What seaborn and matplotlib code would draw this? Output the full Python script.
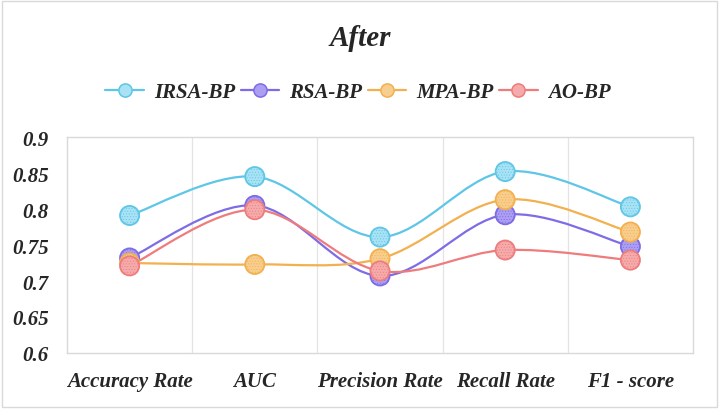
import numpy as np
import pandas as pd
import matplotlib
matplotlib.use("Agg")
import matplotlib.pyplot as plt
import seaborn as sns
from matplotlib.path import Path
from matplotlib.patches import PathPatch, Rectangle
from matplotlib.lines import Line2D

# ---- data ----
categories = ["Accuracy Rate", "AUC", "Precision Rate", "Recall Rate", "F1 - score"]
series_names = ["IRSA-BP", "RSA-BP", "MPA-BP", "AO-BP"]
irsa_bp = [0.791, 0.845, 0.761, 0.852, 0.803]
rsa_bp = [0.732, 0.805, 0.707, 0.792, 0.748]
mpa_bp = [0.725, 0.723, 0.731, 0.813, 0.768]
ao_bp = [0.721, 0.799, 0.714, 0.743, 0.729]
y_ticks = [0.6, 0.65, 0.7, 0.75, 0.8, 0.85, 0.9]
y_tick_labels = ["0.6", "0.65", "0.7", "0.75", "0.8", "0.85", "0.9"]

values = {"IRSA-BP": irsa_bp, "RSA-BP": rsa_bp, "MPA-BP": mpa_bp, "AO-BP": ao_bp}
edge_colors = {"IRSA-BP": "#5EC6E6", "RSA-BP": "#7D6CE6", "MPA-BP": "#F3B04E", "AO-BP": "#EF7C7C"}
fill_colors = {"IRSA-BP": "#A9E2F4", "RSA-BP": "#AC9FF2", "MPA-BP": "#F8CE8E", "AO-BP": "#F5ABAB"}

rows = []
for name in series_names:
    for i, c in enumerate(categories):
        rows.append({"series": name, "cat": c, "x": i, "value": values[name][i]})
df = pd.DataFrame(rows)

sns.set_theme(style="white")
plt.rcParams["font.family"] = ["Liberation Serif", "DejaVu Serif"]
plt.rcParams["hatch.linewidth"] = 0.35

fig = plt.figure(figsize=(7.2, 4.1), dpi=100)
ax = fig.add_axes([67 / 720, 1 - 354 / 410, (693 - 67) / 720, (354 - 138) / 410])


def smooth_path(xs, ys, k=1.0 / 6.0):
    pts = np.column_stack([xs, ys]).astype(float)
    n = len(pts)
    verts = [pts[0]]
    codes = [Path.MOVETO]
    for i in range(n - 1):
        p0 = pts[i - 1] if i > 0 else pts[i]
        p1 = pts[i]
        p2 = pts[i + 1]
        p3 = pts[i + 2] if i + 2 < n else pts[i + 1]
        c1 = p1 + (p2 - p0) * k
        c2 = p2 - (p3 - p1) * k
        verts += [c1, c2, p2]
        codes += [Path.CURVE4] * 3
    return Path(verts, codes)


for name in series_names:
    sub = df[df.series == name]
    patch = PathPatch(smooth_path(sub.x.values, sub.value.values), fill=False,
                      edgecolor=edge_colors[name], lw=1.6, transform=ax.transData, zorder=2)
    ax.add_patch(patch)

for name in series_names:
    sub = df[df.series == name]
    with plt.rc_context({"hatch.color": edge_colors[name]}):
        n_before = len(ax.collections)
        sns.scatterplot(data=sub, x="x", y="value", ax=ax, s=190, color=fill_colors[name],
                        edgecolor=edge_colors[name], linewidth=1.3, zorder=3, legend=False)
        coll = ax.collections[n_before]
        coll.set_hatch("......")
        coll._hatch_color = matplotlib.colors.to_rgba(edge_colors[name])

ax.set_xlim(-0.5, len(categories) - 0.5)
ax.set_ylim(0.6, 0.9)
ax.set_xticks(range(len(categories)))
ax.set_xticklabels(categories, fontsize=15, fontweight="bold", fontstyle="italic")
ax.set_yticks(y_ticks)
ax.set_yticklabels(y_tick_labels, fontsize=15, fontweight="bold", fontstyle="italic")
ax.set_xticks(np.arange(0.5, len(categories) - 0.5, 1), minor=True)
ax.grid(False)
ax.grid(True, which="minor", axis="x", color="#E4E4E4", lw=0.9)
ax.tick_params(axis="both", which="both", length=0)
ax.tick_params(axis="x", pad=13)
ax.tick_params(axis="y", pad=13)
ax.set_xlabel("")
ax.set_ylabel("")
for sp in ax.spines.values():
    sp.set_color("#D9D9D9")
    sp.set_linewidth(1.0)

fig.text(0.5, 1 - 39 / 410, "After", ha="center", va="center", fontsize=21,
         fontweight="bold", fontstyle="italic")

handles = [Line2D([0], [0], color=edge_colors[n], lw=1.6, marker="o", markersize=9.5,
                  markerfacecolor=fill_colors[n], markeredgecolor=edge_colors[n],
                  markeredgewidth=1.1) for n in series_names]
fig.legend(handles, series_names, loc="center", bbox_to_anchor=(358 / 720, 1 - 93 / 410),
           ncol=4, frameon=False, handlelength=1.85, handletextpad=0.5, columnspacing=0.25,
           prop={"size": 15, "weight": "bold", "style": "italic", "family": "Liberation Serif"})

fig.patches.append(Rectangle((2 / 720, 2 / 410), 715 / 720, 406 / 410, transform=fig.transFigure,
                             fill=False, edgecolor="#D9D9D9", lw=1.0))

fig.savefig("out.png", dpi=100)
